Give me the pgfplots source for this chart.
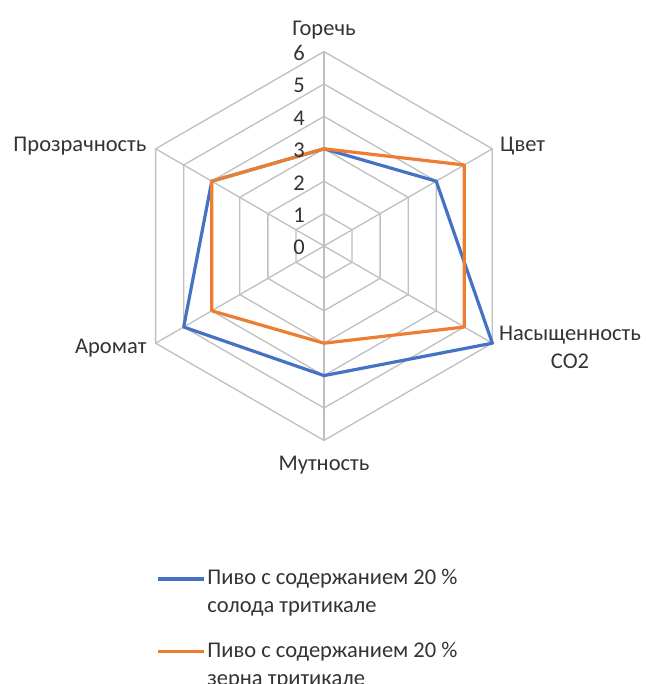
\documentclass[border=0pt]{standalone}
\usepackage{fontspec}
\setmainfont{Carlito}
\usepackage{pgfplots}
\pgfplotsset{compat=1.18}
\definecolor{cBlue}{HTML}{4472C4}
\definecolor{cOrange}{HTML}{ED7D31}
\definecolor{cGrid}{HTML}{BFBFBF}
\definecolor{cText}{HTML}{333333}

\begin{document}
\begin{tikzpicture}[font=\fontsize{22.5}{28}\selectfont, text=cText]
  \begin{axis}[
      x=32.4pt, y=32.4pt,
      xmin=-10, xmax=9.938, ymin=-13.519, ymax=7.593,
      hide axis, clip=false,
      legend style={at={(axis cs:-5.185,-9.92)}, anchor=north west,
        draw=none, fill=none, inner sep=0pt, row sep=24pt,
        cells={align=left, anchor=west},
        /tikz/every even column/.append style={column sep=4pt}},
      legend image code/.code={\draw[#1] (0pt,13pt) -- (46pt,13pt); \path (0pt,-13pt);},
    ]
    % hexagon grid and spokes
    \pgfplotsinvokeforeach{1,2,3,4,5,6}{
      \addplot[cGrid, line width=1.3pt, data cs=polar, forget plot]
        coordinates {(90,#1) (30,#1) (-30,#1) (-90,#1) (-150,#1) (150,#1) (90,#1)};
    }
    \pgfplotsinvokeforeach{90,30,-30,-90,-150,150}{
      \addplot[cGrid, line width=1.3pt, data cs=polar, forget plot]
        coordinates {(#1,0) (#1,6)};
    }
    % series
    \addplot[cBlue, line width=3.2pt, data cs=polar, line join=round]
      coordinates {(90,3) (30,4) (-30,6) (-90,4) (-150,5) (150,4) (90,3)};
    \addlegendentry{Пиво с содержанием 20 \%\\солода тритикале}
    \addplot[cOrange, line width=3.2pt, data cs=polar, line join=round]
      coordinates {(90,3) (30,5) (-30,5) (-90,3) (-150,4) (150,4) (90,3)};
    \addlegendentry{Пиво с содержанием 20 \%\\зерна тритикале}
    % radial tick labels
    \pgfplotsinvokeforeach{0,1,2,3,4,5,6}{
      \node[anchor=east, inner sep=0pt] at (axis cs:-0.59,#1-0.05) {#1};
    }
    % category labels
    \node[anchor=base, inner sep=0pt] at (axis cs:0,6.5) {Горечь};
    \node[anchor=base west, inner sep=0pt] at (axis cs:5.432,2.91) {Цвет};
    \node[anchor=base, inner sep=0pt, align=center] at (axis cs:7.593,-3.775) {Насыщенность\\CO2};
    \node[anchor=base, inner sep=0pt] at (axis cs:0,-6.935) {Мутность};
    \node[anchor=base east, inner sep=0pt] at (axis cs:-5.472,-3.333) {Аромат};
    \node[anchor=base east, inner sep=0pt] at (axis cs:-5.472,2.91) {Прозрачность};
    \coordinate (bl) at (axis cs:-10,-13.519);
    \coordinate (tr) at (axis cs:9.938,7.593);
  \end{axis}
  \pgfresetboundingbox
  \useasboundingbox (bl) rectangle (tr);
\end{tikzpicture}
\end{document}
